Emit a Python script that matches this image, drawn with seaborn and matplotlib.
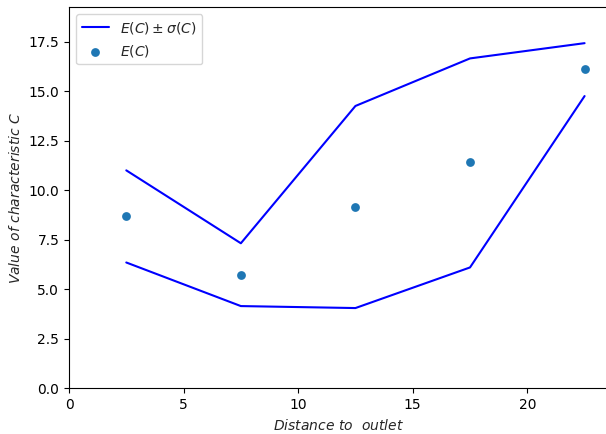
import matplotlib
matplotlib.use("Agg")
import matplotlib.pyplot as plt
import seaborn as sns
import pandas as pd

distance = [2.5, 7.5, 12.5, 17.5, 22.5]
upper = [11.0, 7.32, 14.25, 16.65, 17.42]
lower = [6.35, 4.15, 4.05, 6.1, 14.75]
mean = [8.68, 5.72, 9.14, 11.4, 16.1]

df = pd.DataFrame({"distance": distance, "upper": upper, "lower": lower, "mean": mean})

sns.set_style("ticks")
plt.rcParams['font.family'] = ['DejaVu Sans']

fig = plt.figure(figsize=(6.06, 4.34), dpi=100)
ax = fig.add_axes([69 / 606, (434 - 388.3) / 434, (607.5 - 69) / 606, (388.3 - 7.3) / 434])

sns.lineplot(data=df, x="distance", y="upper", color="blue", ax=ax,
             label=r"$E(C) \pm \sigma(C)$", linewidth=1.5)
sns.lineplot(data=df, x="distance", y="lower", color="blue", ax=ax, linewidth=1.5)
sns.scatterplot(data=df, x="distance", y="mean", color="#1f77b4", ax=ax,
                s=40, linewidth=0, label=r"$E(C)$")

ax.set_xlim(0, 23.5)
ax.set_ylim(0, 19.23)
ax.set_yticks([0, 2.5, 5, 7.5, 10, 12.5, 15, 17.5])
ax.set_yticklabels(["0.0", "2.5", "5.0", "7.5", "10.0", "12.5", "15.0", "17.5"])
ax.set_xticks([0, 5, 10, 15, 20])
ax.set_xlabel(r"$Distance\ to\ \ outlet$")
ax.set_ylabel(r"$Value\ of\ characteristic\ C$")
ax.tick_params(labelsize=10, color="black", labelcolor="black")
for s in ax.spines.values():
    s.set_color("black")
ax.legend(loc="upper left", fontsize=10)

fig.savefig("out.png", dpi=100)
